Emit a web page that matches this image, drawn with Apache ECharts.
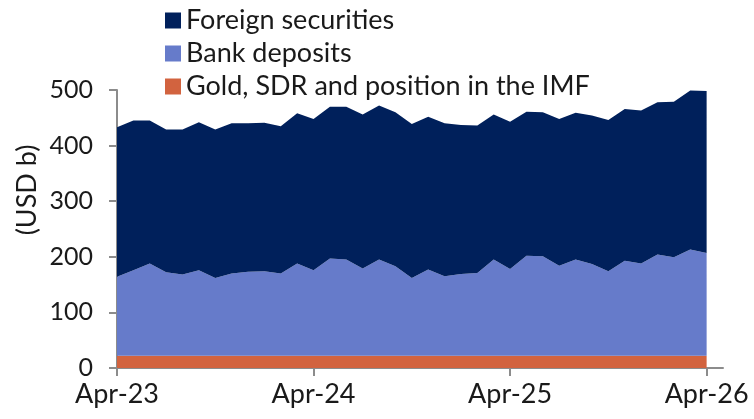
<!DOCTYPE html>
<html>
<head>
<meta charset="utf-8">
<script src="https://cdn.jsdelivr.net/npm/echarts@6/dist/echarts.min.js"></script>
<style>
  html, body { margin: 0; padding: 0; background: #fff; }
  #chart { width: 754px; height: 419px; }
</style>
</head>
<body>
<div id="chart"></div>
<script>
// monthly, Apr-23 .. Apr-26 (one extra empty slot so the axis runs past the last point)
var months = [];
var mNames = ['Jan','Feb','Mar','Apr','May','Jun','Jul','Aug','Sep','Oct','Nov','Dec'];
for (var i = 0; i < 38; i++) {
  var m = (3 + i) % 12, y = 23 + Math.floor((3 + i) / 12);
  months.push(mNames[m] + '-' + y);
}

// USD b
var gold = [22,22,22,22,22,22,22,22,22,22,22,22,22,22,22,22,22,22,22,22,22,22,22,22,22,22,22,22,22,22,22,22,22,22,22,22,22];
var bankDeposits = [142,154,166,150,146,154,140,148,151,152,148,166,154,175,173,157,173,161,140,155,143,147,149,173,156,180,179,162,173,165,152,171,166,182,177,191,185];
var foreignSecurities = [269,269,257,257,261,266,267,270,267,267,265,270,272,273,275,277,277,277,277,275,275,268,265,261,265,259,259,264,264,267,272,273,275,274,280,286,291];

var legendOrder = ['Foreign securities', 'Bank deposits', 'Gold, SDR and position in the IMF'];

var font = 'Lato';
var myChart = echarts.init(document.getElementById('chart'));

function areaSeries(name, data, color) {
  return {
    name: name,
    type: 'line',
    stack: 'total',
    data: data,
    symbol: 'none',
    lineStyle: { width: 0 },
    areaStyle: { color: color, opacity: 1 },
    itemStyle: { color: color }
  };
}

myChart.setOption({
  animation: false,
  textStyle: { fontFamily: font },
  legend: {
    data: legendOrder,
    orient: 'vertical',
    left: 160,
    top: 7,
    padding: [0, 5],
    itemGap: 6,
    itemWidth: 16,
    itemHeight: 16,
    icon: 'rect',
    textStyle: { fontSize: 27, lineHeight: 27, color: '#1a1a1a', fontFamily: font }
  },
  graphic: [{
    type: 'text',
    x: 27,
    y: 190,
    rotation: Math.PI / 2,
    style: {
      text: '(USD b)',
      font: '27px Lato',
      fill: '#1a1a1a',
      textAlign: 'center',
      textVerticalAlign: 'middle'
    }
  }],
  grid: { left: 117, right: 31, top: 90, bottom: 51 },
  xAxis: {
    type: 'category',
    data: months,
    boundaryGap: false,
    axisLine: { lineStyle: { color: '#8c8c8c', width: 2 } },
    axisTick: {
      length: 8,
      lineStyle: { color: '#8c8c8c', width: 2 },
      interval: function (idx) { return idx % 12 === 0 && idx < 37; }
    },
    axisLabel: {
      fontSize: 27,
      color: '#1a1a1a',
      margin: 13,
      interval: function (idx) { return idx % 12 === 0 && idx < 37; }
    }
  },
  yAxis: {
    type: 'value',
    min: 0,
    max: 500,
    interval: 100,
    splitLine: { show: false },
    axisLine: { show: true, lineStyle: { color: '#8c8c8c', width: 2 } },
    axisTick: { show: true, length: 8, lineStyle: { color: '#8c8c8c', width: 2 } },
    axisLabel: { fontSize: 25, color: '#1a1a1a', margin: 24 }
  },
  series: [
    areaSeries('Gold, SDR and position in the IMF', gold, '#D2633F'),
    areaSeries('Bank deposits', bankDeposits, '#667BCA'),
    areaSeries('Foreign securities', foreignSecurities, '#00205B')
  ]
});
</script>
</body>
</html>
